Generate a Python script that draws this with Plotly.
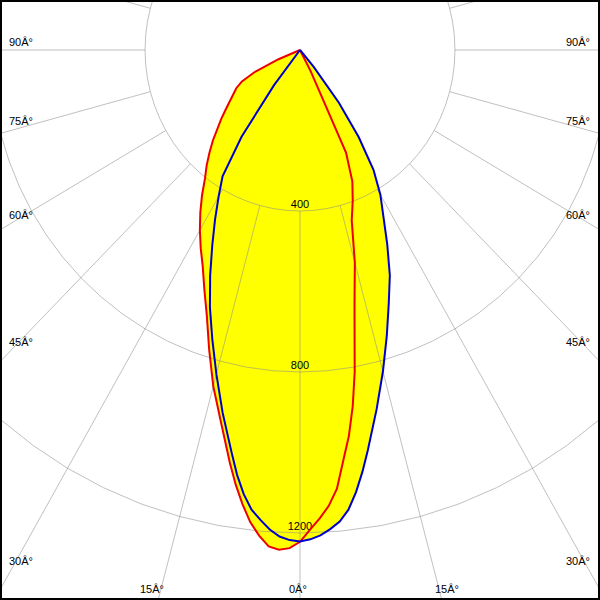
import numpy as np
import plotly.graph_objects as go

# ---- data (candela values) ----
gamma = [0, 1.25, 2.5, 3.75, 5, 6.25, 7.5, 8.75, 10, 12.5, 15, 17.5, 20, 22.5, 25, 27.5, 30,
         32.5, 35, 37.5, 40, 42.5, 45, 47.5, 50, 52.5, 55, 57.5, 60, 62.5, 65, 67.5, 70]

# C0 / C180 plane (blue): right side and left side
blue_right = [1221, 1216, 1207, 1193, 1176, 1149, 1108, 1060, 1009, 914, 827, 745, 670, 606, 533,
              464, 415, 353, 264, 165, 55, 0, 0, 0, 0, 0, 0, 0, 0, 0, 0, 0, 0]
blue_left = [1221, 1218, 1210, 1194, 1172, 1149, 1113, 1068, 1016, 923, 834, 753, 680, 606, 536,
             475, 420, 372, 263, 110, 0, 0, 0, 0, 0, 0, 0, 0, 0, 0, 0, 0, 0]

# C90 / C270 plane (red): left side and right side
red_left = [1222, 1238, 1243, 1236, 1211, 1180, 1138, 1092, 1042, 945, 865, 780, 703, 645, 594,
            555, 517, 479, 441, 403, 375, 346, 318, 290, 265, 241, 221, 205, 190, 169, 128, 60, 0]
red_right = [1222, 1192, 1165, 1135, 1094, 1026, 967, 895, 813, 650, 547, 444, 398, 353, 281,
             60, 0, 0, 0, 0, 0, 0, 0, 0, 0, 0, 0, 0, 0, 0, 0, 0, 0]

ring_values = [400, 800, 1200, 1600]
ring_labels = ["400", "800", "1200"]
spoke_angles = list(range(0, 360, 15))
angle_labels = ["90Â°", "75Â°", "60Â°", "45Â°", "30Â°", "15Â°", "0Â°",
                "15Â°", "30Â°", "45Â°", "60Â°", "75Â°", "90Â°"]

# ---- layout constants (pixel positions of angle labels in the 600x600 frame) ----
label_pos = [(21, 42), (21, 121), (21, 215), (21, 342), (21, 561), (152, 589), (298, 589),
             (447, 589), (578, 561), (578, 342), (578, 215), (578, 121), (578, 42)]

W = H = 600
X_RANGE = [-774.4, 774.4]
Y_RANGE = [-1366.5, 124.2]


def curve_xy(left, right):
    g = np.radians(gamma)
    l = np.array(left, float)
    r = np.array(right, float)
    # go from the apex down the left side, across the bottom, up the right side
    xs = np.concatenate([(-l * np.sin(g))[::-1], (r * np.sin(g))[1:]])
    ys = np.concatenate([(-l * np.cos(g))[::-1], (-r * np.cos(g))[1:]])
    return xs, ys


bx, by = curve_xy(blue_left, blue_right)
rx, ry = curve_xy(red_left, red_right)

fig = go.Figure()

# yellow fill (union of both planes)
for xs, ys in ((bx, by), (rx, ry)):
    fig.add_trace(go.Scatter(x=xs, y=ys, mode="lines", fill="toself",
                             fillcolor="#FFFF00", line=dict(width=0, color="#FFFF00"),
                             hoverinfo="skip"))

# grid: circles
cx, cy = [], []
t = np.radians(np.arange(0, 365, 5))
for rv in ring_values:
    cx += list(rv * np.sin(t)) + [None]
    cy += list(-rv * np.cos(t)) + [None]
fig.add_trace(go.Scatter(x=cx, y=cy, mode="lines",
                         line=dict(color="rgba(140,140,140,0.55)", width=1),
                         hoverinfo="skip"))

# grid: spokes from the first ring outward
sx, sy = [], []
for a in spoke_angles:
    ar = np.radians(a)
    sx += [ring_values[0] * np.sin(ar), 3000 * np.sin(ar), None]
    sy += [-ring_values[0] * np.cos(ar), -3000 * np.cos(ar), None]
fig.add_trace(go.Scatter(x=sx, y=sy, mode="lines",
                         line=dict(color="rgba(140,140,140,0.55)", width=1),
                         hoverinfo="skip"))

# ring value labels
fig.add_trace(go.Scatter(x=[0] * len(ring_labels), y=[-v for v in ring_values[:len(ring_labels)]],
                         mode="text", text=ring_labels, textposition="top center",
                         textfont=dict(family="Liberation Sans, Arial", size=11, color="black"),
                         hoverinfo="skip"))

# curves
fig.add_trace(go.Scatter(x=rx, y=ry, mode="lines", line=dict(color="#EE0000", width=2),
                         hoverinfo="skip"))
fig.add_trace(go.Scatter(x=bx, y=by, mode="lines", line=dict(color="#0000CC", width=2),
                         hoverinfo="skip"))

annotations = []
for txt, (px, py) in zip(angle_labels, label_pos):
    annotations.append(dict(text=txt, x=px / W, y=1 - py / H, xref="paper", yref="paper",
                            xanchor="center", yanchor="middle", showarrow=False,
                            font=dict(family="Liberation Sans, Arial", size=11, color="black")))

fig.update_layout(
    width=W, height=H, margin=dict(l=0, r=0, t=0, b=0),
    paper_bgcolor="white", plot_bgcolor="white", showlegend=False,
    xaxis=dict(range=X_RANGE, visible=False, showgrid=False, zeroline=False, fixedrange=True),
    yaxis=dict(range=Y_RANGE, visible=False, showgrid=False, zeroline=False, fixedrange=True),
    annotations=annotations,
    shapes=[dict(type="rect", xref="paper", yref="paper", x0=0, y0=0, x1=1, y1=1,
                 line=dict(color="black", width=4))],
)

fig.write_html("out.html", config={"displayModeBar": False},
               post_script="document.body.style.margin='0';document.body.style.overflow='hidden';")
